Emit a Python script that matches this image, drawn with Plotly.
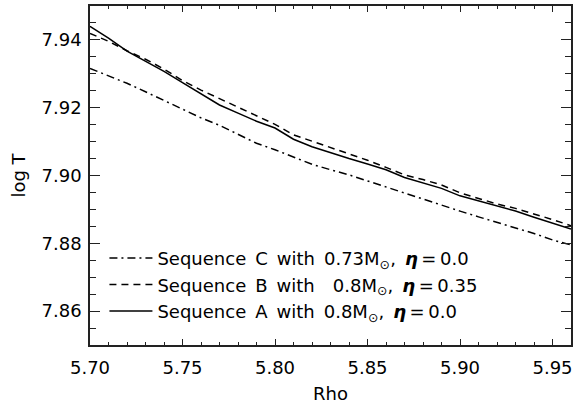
import plotly.graph_objects as go

# Density grid (log Rho) shared by all three sequences
rho = [5.70, 5.71, 5.72, 5.73, 5.74, 5.75, 5.76, 5.77, 5.78, 5.79,
       5.80, 5.81, 5.82, 5.83, 5.84, 5.85, 5.86, 5.87, 5.88, 5.89,
       5.90, 5.91, 5.92, 5.93, 5.94, 5.95, 5.96]

# log T
seq_a = [7.9440, 7.9405, 7.9367, 7.9338, 7.9307, 7.9274, 7.9241, 7.9208, 7.9184,
         7.9160, 7.9140, 7.9107, 7.9085, 7.9067, 7.9050, 7.9034, 7.9017, 7.8994,
         7.8979, 7.8962, 7.8940, 7.8925, 7.8911, 7.8895, 7.8877, 7.8860, 7.8842]
seq_b = [7.9419, 7.9396, 7.9368, 7.9343, 7.9314, 7.9280, 7.9252, 7.9227, 7.9203,
         7.9177, 7.9151, 7.9120, 7.9101, 7.9082, 7.9065, 7.9045, 7.9024, 7.9002,
         7.8988, 7.8972, 7.8949, 7.8932, 7.8916, 7.8903, 7.8887, 7.8870, 7.8852]
seq_c = [7.9316, 7.9295, 7.9272, 7.9247, 7.9221, 7.9194, 7.9170, 7.9148, 7.9122,
         7.9095, 7.9076, 7.9055, 7.9033, 7.9017, 7.9002, 7.8984, 7.8966, 7.8947,
         7.8931, 7.8911, 7.8895, 7.8878, 7.8862, 7.8845, 7.8829, 7.8810, 7.8795]

x_ticks = [5.70, 5.75, 5.80, 5.85, 5.90, 5.95]
y_ticks = [7.86, 7.88, 7.90, 7.92, 7.94]

SP = "\u2002"   # wide word gap, like the original IDL output
TH = "\u2009"   # thin gap around "="
eta = f"<b><i>η</i></b>{TH}={TH}"
name_a = f"Sequence{SP}A{SP}with{SP}0.8M<sub>⊙</sub>,{SP}{eta}0.0"
name_b = f"Sequence{SP}B{SP}with{SP}{SP}0.8M<sub>⊙</sub>,{SP}{eta}0.35"
name_c = f"Sequence{SP}C{SP}with{SP}0.73M<sub>⊙</sub>,{SP}{eta}0.0"

FONT = "DejaVu Sans"
INK = "#000000"
AXIS = "#222222"

fig = go.Figure()
fig.add_trace(go.Scatter(x=rho, y=seq_a, mode="lines", name=name_a,
                         line=dict(color=INK, width=1.5)))
fig.add_trace(go.Scatter(x=rho, y=seq_b, mode="lines", name=name_b,
                         line=dict(color=INK, width=1.5, dash="7px,5px")))
fig.add_trace(go.Scatter(x=rho, y=seq_c, mode="lines", name=name_c,
                         line=dict(color=INK, width=1.5, dash="8px,4px,2px,4px")))

axis_common = dict(
    showgrid=False, zeroline=False,
    showline=True, linecolor=AXIS, linewidth=1.5,
    mirror="ticks", ticks="inside", tickcolor=AXIS, tickwidth=1,
    tickfont=dict(family=FONT, size=18, color=INK),
)

fig.update_layout(
    width=577, height=405,
    margin=dict(l=90, r=4, t=4, b=60),
    paper_bgcolor="white", plot_bgcolor="white",
    font=dict(family=FONT, size=18, color=INK),
    xaxis=dict(
        axis_common, range=[5.70, 5.96],
        tickvals=x_ticks, ticktext=[f"{v:.2f}" for v in x_ticks], ticklen=6,
        ticklabelstandoff=6,
        minor=dict(dtick=0.01, tick0=5.70, ticks="inside", ticklen=3.5,
                   tickcolor=AXIS, showgrid=False),
        title=dict(text="Rho", font=dict(family=FONT, size=18), standoff=10),
    ),
    yaxis=dict(
        axis_common, range=[7.85, 7.95],
        tickvals=y_ticks, ticktext=[f"{v:.2f}" for v in y_ticks], ticklen=10,
        ticklabelstandoff=3,
        minor=dict(dtick=0.005, tick0=7.85, ticks="inside", ticklen=6,
                   tickcolor=AXIS, showgrid=False),
        title=dict(text="log T", font=dict(family=FONT, size=18), standoff=11),
    ),
    showlegend=True,
    legend=dict(
        x=0.03, y=0.31, xanchor="left", yanchor="top",
        traceorder="reversed", bgcolor="rgba(0,0,0,0)",
        font=dict(family=FONT, size=18, color=INK),
        itemwidth=43, tracegroupgap=0,
    ),
)

fig.write_html("out.html", config={"displayModeBar": False},
               post_script="document.body.style.margin='0px';")
